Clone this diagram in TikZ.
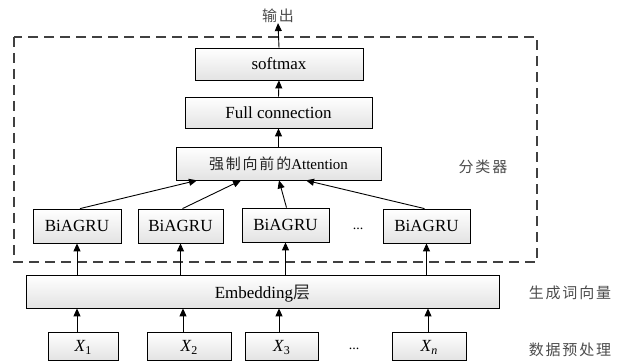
\documentclass[tikz,border=0pt]{standalone}
\usepackage{fontspec}
\setmainfont{Liberation Serif}
\newfontfamily\cjk[LetterSpace=12]{Noto Sans CJK SC}
\usetikzlibrary{arrows.meta}
\tikzset{
  blk/.style={draw=black, line width=0.8pt, top color=white, bottom color=gray!22, inner sep=0pt, font=\fontsize{17}{17}\selectfont, text depth=0pt},
  arr/.style={line width=0.9pt, -{Triangle[length=8pt,width=7pt]}},
  lbl/.style={font=\fontsize{15}{15}\cjk, text=black!70, inner sep=0pt},
  dotsl/.style={font=\fontsize{14}{14}\selectfont, inner sep=0pt},
  frame/.style={dash pattern=on 10pt off 6pt, line width=1.3pt, draw=black!75}
}
\newcommand{\Xsub}[1]{\textit{X}\raisebox{-0.35ex}{\fontsize{12}{12}\selectfont #1}}
\begin{document}
\begin{tikzpicture}[x=1pt,y=1pt]
\useasboundingbox (0,0) rectangle (621,361);
% frame
\draw[frame] (14,{361-37}) rectangle (537,{361-262});
% upper stack
\node[blk, minimum width=168pt, minimum height=32pt] (soft) at (279,{361-64}) {softmax};
\node[blk, minimum width=187pt, minimum height=31pt] (full) at (278.5,{361-112.5}) {Full connection};
\node[blk, minimum width=205pt, minimum height=33pt, font=\fontsize{15}{15}\selectfont] (att) at (278.5,{361-163.5}) {{\cjk\color{black!85}强制向前的}Attention};
\node[lbl] (out) at (278,{361-16}) {输出};
% BiAGRU
\node[blk, minimum width=88pt, minimum height=34pt] (b1) at (77,{361-226}) {BiAGRU};
\node[blk, minimum width=85pt, minimum height=34pt] (b2) at (180.5,{361-226}) {BiAGRU};
\node[blk, minimum width=87pt, minimum height=34pt] (b3) at (285.5,{361-225}) {BiAGRU};
\node[blk, minimum width=87pt, minimum height=34pt] (b4) at (426.5,{361-226}) {BiAGRU};
\node[dotsl] (bd) at (358,{361-229}) {...};
% Embedding
\node[blk, minimum width=473pt, minimum height=33pt] (emb) at (262.5,{361-291.5}) {Embedding{\cjk\color{black!85}层}};
% inputs
\node[blk, minimum width=70pt, minimum height=28pt] (x1) at (83,{361-346}) {\Xsub{1}};
\node[blk, minimum width=84pt, minimum height=28pt] (x2) at (189,{361-346}) {\Xsub{2}};
\node[blk, minimum width=73pt, minimum height=28pt] (x3) at (281.5,{361-346}) {\Xsub{3}};
\node[blk, minimum width=74pt, minimum height=28pt] (xn) at (429,{361-346}) {\Xsub{\textit{n}}};
\node[dotsl] (xd) at (354,{361-349}) {...};
% side labels
\node[lbl] (cls) at (483,{361-167}) {分类器};
\node[lbl] (gen) at (570,{361-293}) {生成词向量};
\node[lbl] (pre) at (570,{361-350}) {数据预处理};
% arrows
\draw[arr] (soft.north) -- (out.south);
\draw[arr] (full.north) -- (soft.south);
\draw[arr] (att.north) -- (full.south);
\draw[arr] ([xshift=3pt]b1.north) -- ([xshift=-81.5pt]att.south);
\draw[arr] ([xshift=2pt]b2.north) -- ([xshift=-37.5pt]att.south);
\draw[arr] ([xshift=1pt]b3.north) -- ([xshift=0.5pt]att.south);
\draw[arr] ([xshift=-2pt]b4.north) -- ([xshift=27.5pt]att.south);
\foreach \b in {b1,b2,b3,b4}{
  \draw[arr] (\b.south |- emb.north) -- (\b.south);
}
\draw[arr] ([xshift=-6pt]x1.north) -- ([xshift=-6pt]x1.north |- emb.south);
\draw[arr] ([xshift=-6pt]x2.north) -- ([xshift=-6pt]x2.north |- emb.south);
\draw[arr] ([xshift=-2.5pt]x3.north) -- ([xshift=-2.5pt]x3.north |- emb.south);
\draw[arr] ([xshift=-1pt]xn.north) -- ([xshift=-1pt]xn.north |- emb.south);
\end{tikzpicture}
\end{document}
